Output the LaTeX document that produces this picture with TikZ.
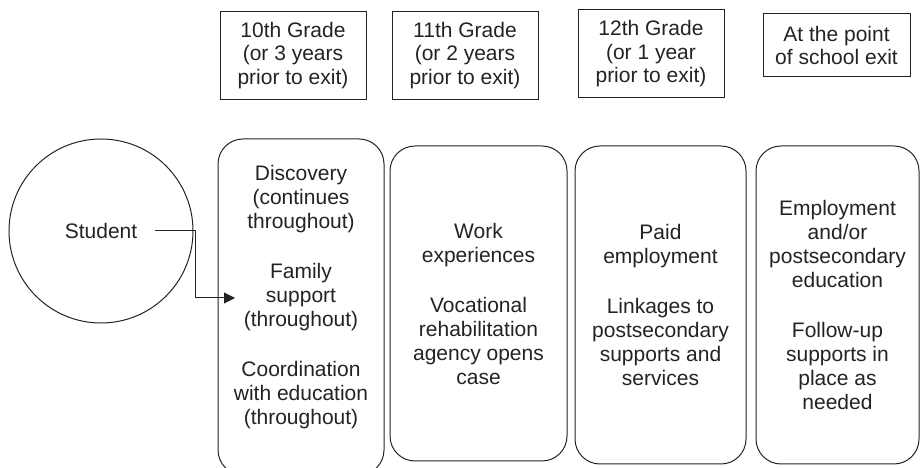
\documentclass[tikz,border=0pt]{standalone}
\usepackage{fontspec}
\setmainfont{Liberation Sans}
\usetikzlibrary{shapes,arrows.meta,positioning}
\definecolor{inkgray}{RGB}{35,35,35}

\begin{document}
\begin{tikzpicture}[
    x=1pt, y=1pt,
    every node/.style={align=center, text=inkgray, font=\fontsize{21}{24}\selectfont},
    grade/.style={rectangle, draw=inkgray, line width=1pt, inner sep=0pt, minimum width=146pt, minimum height=88pt, font=\fontsize{21}{23.5}\selectfont},
    stage/.style={rectangle, rounded corners=25pt, draw=inkgray, line width=1pt, inner sep=0pt},
    stagetext/.style={inner sep=0pt},
    arrow/.style={draw=inkgray, line width=1pt, -{Triangle[length=11pt,width=11pt]}}
]
\useasboundingbox (0,0) rectangle (921,468);

% Student
\node[circle, draw=inkgray, line width=1pt, minimum size=184pt, inner sep=0pt] (student) at (101,237) {Student};

% Grade headings
\node[grade] (grade10) at (293,412.5) {10th Grade\\(or 3 years\\prior to exit)};
\node[grade, right=25pt of grade10] (grade11) {11th Grade\\(or 2 years\\prior to exit)};
\node[grade, right=39pt of grade11, yshift=1.5pt] (grade12) {12th Grade\\(or 1 year\\prior to exit)};
\node[grade, right=38pt of grade12, minimum width=147pt, minimum height=63pt, yshift=8.5pt] (exit) {At the point\\of school exit};

% Stage boxes
\node[stage, minimum width=166pt, minimum height=336pt] (stage1) at (301,161) {};
\node[stage, minimum width=177pt, minimum height=315pt] (stage2) at (478.5,164.5) {};
\node[stage, minimum width=171pt, minimum height=318pt] (stage3) at (660.5,163) {};
\node[stage, minimum width=163pt, minimum height=318pt] (stage4) at (837.5,163) {};

% Stage contents
\node[stagetext, below=26.5pt of stage1.north] (discovery) {Discovery\\(continues\\throughout)\\[26pt]Family\\support\\(throughout)\\[26pt]Coordination\\with education\\(throughout)};
\node[stagetext] (work) at (stage2) {Work\\experiences\\[26pt]Vocational\\rehabilitation\\agency opens\\case};
\node[stagetext] (paid) at (stage3) {Paid\\employment\\[26pt]Linkages to\\postsecondary\\supports and\\services};
\node[stagetext] (employment) at (stage4) {Employment\\and/or\\postsecondary\\education\\[26pt]Follow-up\\supports in\\place as\\needed};

% Student into first stage
\coordinate (arrowstart) at (155,237);
\coordinate (arrowtip) at (235,170);
\draw[arrow] (arrowstart) -- ++(40,0) |- (arrowtip);

\end{tikzpicture}
\end{document}
